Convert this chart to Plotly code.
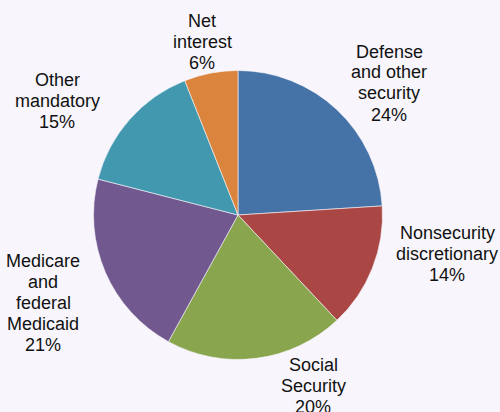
import plotly.graph_objects as go

categories = ["Defense and other security", "Nonsecurity discretionary", "Social Security",
              "Medicare and federal Medicaid", "Other mandatory", "Net interest"]
label_lines = [["Defense", "and other", "security"], ["Nonsecurity", "discretionary"], ["Social", "Security"],
               ["Medicare", "and", "federal", "Medicaid"], ["Other", "mandatory"], ["Net", "interest"]]
shares = [24, 14, 20, 21, 15, 6]
colors = ["#4572A7", "#AA4643", "#89A54E", "#71588F", "#4198AF", "#DB843D"]

W, H = 500, 412
cx, cy, r = 238, 215, 144.5
# label block centres in pixels
label_pos = [(389, 83), (447, 254), (313, 386), (43, 303), (57, 101), (202, 42)]
LINE = 21

fig = go.Figure(go.Pie(
    labels=categories, values=shares, sort=False, direction="clockwise", rotation=0,
    marker=dict(colors=colors, line=dict(color="#F8F6FC", width=0.6)),
    textinfo="none", hoverinfo="label+percent", showlegend=False,
    domain=dict(x=[(cx - r) / W, (cx + r) / W], y=[1 - (cy + r) / H, 1 - (cy - r) / H]),
))

for lines, v, (px, py) in zip(label_lines, shares, label_pos):
    all_lines = lines + [f"{v}%"]
    n = len(all_lines)
    for i, t in enumerate(all_lines):
        y = py + (i - (n - 1) / 2) * LINE
        fig.add_annotation(x=px / W, y=1 - y / H, xref="paper", yref="paper",
                           text=t, showarrow=False, xanchor="center", yanchor="middle",
                           font=dict(family="Liberation Sans, Arial", size=18, color="#111111"))

fig.update_layout(width=W, height=H, margin=dict(l=0, r=0, t=0, b=0),
                  paper_bgcolor="#F8F6FC", plot_bgcolor="#F8F6FC")
fig.write_html("out.html")
